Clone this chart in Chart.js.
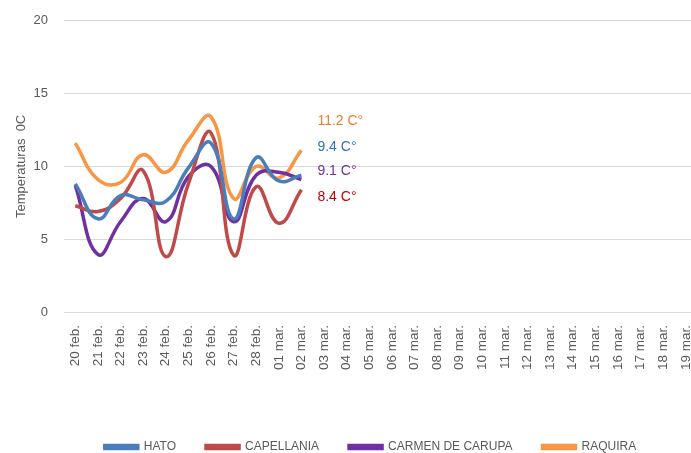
<!DOCTYPE html>
<html lang="es">
<head>
  <meta charset="UTF-8" />
  <title>Temperaturas</title>
  <script src="https://cdn.jsdelivr.net/npm/chart.js"></script>
  <style>
    html, body { margin: 0; padding: 0; background: #fff; overflow: hidden; }
    #wrap { width: 691px; height: 453px; overflow: hidden; }
    #temps { display: block; margin-top: -3px; }
  </style>
</head>
<body>
  <div id="wrap"><canvas id="temps" width="707" height="456"></canvas></div>

  <script>
    const days = ["20 feb.", "21 feb.", "22 feb.", "23 feb.", "24 feb.", "25 feb.", "26 feb.",
      "27 feb.", "28 feb.", "01 mar.", "02 mar.", "03 mar.", "04 mar.", "05 mar.", "06 mar.",
      "07 mar.", "08 mar.", "09 mar.", "10 mar.", "11 mar.", "12 mar.", "13 mar.", "14 mar.",
      "15 mar.", "16 mar.", "17 mar.", "18 mar.", "19 mar."];

    const hato = [8.8, 6.4, 8.0, 7.7, 7.6, 9.9, 11.6, 6.4, 10.6, 9.0, 9.4];
    const capellania = [7.3, 6.9, 7.8, 9.7, 3.8, 8.8, 12.3, 3.9, 8.6, 6.1, 8.4];
    const carmen = [8.7, 3.95, 6.2, 7.8, 6.2, 9.3, 10.0, 6.2, 9.4, 9.6, 9.1];
    const raquira = [11.6, 9.1, 8.9, 10.8, 9.6, 11.8, 13.4, 7.8, 10.0, 9.2, 11.1];

    const lastLabels = ["11.2 C°", "9.4 C°", "9.1 C°", "8.4 C°"];

    const FONT = "'Liberation Sans', Arial, sans-serif";

    // end-of-line value labels
    const endLabels = {
      id: "endLabels",
      afterDatasetsDraw(chart) {
        const ctx = chart.ctx;
        const x = chart.scales.x.getPixelForValue(10) + 16;
        const y = chart.scales.y;
        const spots = [
          [lastLabels[0], 13.1, "#ED7D31"],
          [lastLabels[1], 11.3, "#2E75B6"],
          [lastLabels[2], 9.65, "#7030A0"],
          [lastLabels[3], 7.9, "#C00000"]
        ];
        ctx.save();
        ctx.font = "14px " + FONT;
        ctx.textBaseline = "middle";
        ctx.textAlign = "left";
        spots.forEach(([t, v, c]) => {
          ctx.fillStyle = c;
          ctx.fillText(t, x, y.getPixelForValue(v));
        });
        ctx.restore();
      }
    };

    // the legend sits a bit right of centre in the original
    const shiftLegend = {
      id: "shiftLegend",
      afterLayout(chart) {
        chart.legend.left += 12;
        chart.legend.right += 12;
      }
    };

    const line = (label, data, color) => ({
      label: label,
      data: data,
      borderColor: color,
      backgroundColor: color,
      borderWidth: 3.5,
      pointRadius: 0,
      tension: 0.45
    });

    new Chart(document.getElementById("temps").getContext("2d"), {
      type: "line",
      data: {
        labels: days,
        datasets: [
          line("HATO", hato, "#4A7EBB"),
          line("CAPELLANIA", capellania, "#BE4B48"),
          line("CARMEN DE CARUPA", carmen, "#7030A0"),
          line("RAQUIRA", raquira, "#F79646")
        ]
      },
      options: {
        responsive: false,
        animation: false,
        layout: { padding: { top: 3, right: 0, left: 10, bottom: -10 } },
        plugins: {
          legend: {
            position: "bottom",
            labels: {
              boxWidth: 33,
              boxHeight: 3,
              padding: 30,
              color: "#595959",
              font: { family: FONT, size: 12 }
            }
          },
          tooltip: { enabled: false }
        },
        scales: {
          x: {
            offset: true,
            grid: { display: false },
            border: { display: false },
            ticks: {
              minRotation: 90,
              maxRotation: 90,
              autoSkip: false,
              color: "#595959",
              padding: 5,
              font: { family: FONT, size: 13.5 }
            },
            afterFit(s) { s.height = 99; }
          },
          y: {
            min: 0,
            max: 20,
            ticks: {
              stepSize: 5,
              color: "#595959",
              padding: 16,
              font: { family: FONT, size: 13 }
            },
            grid: { color: "#D9D9D9", lineWidth: 1, drawTicks: false },
            border: { display: false },
            title: {
              display: true,
              text: "Temperaturas  0C",
              color: "#595959",
              font: { family: FONT, size: 13 }
            },
            afterFit(s) { s.width = 54; }
          }
        }
      },
      plugins: [endLabels, shiftLegend]
    });
  </script>
</body>
</html>
